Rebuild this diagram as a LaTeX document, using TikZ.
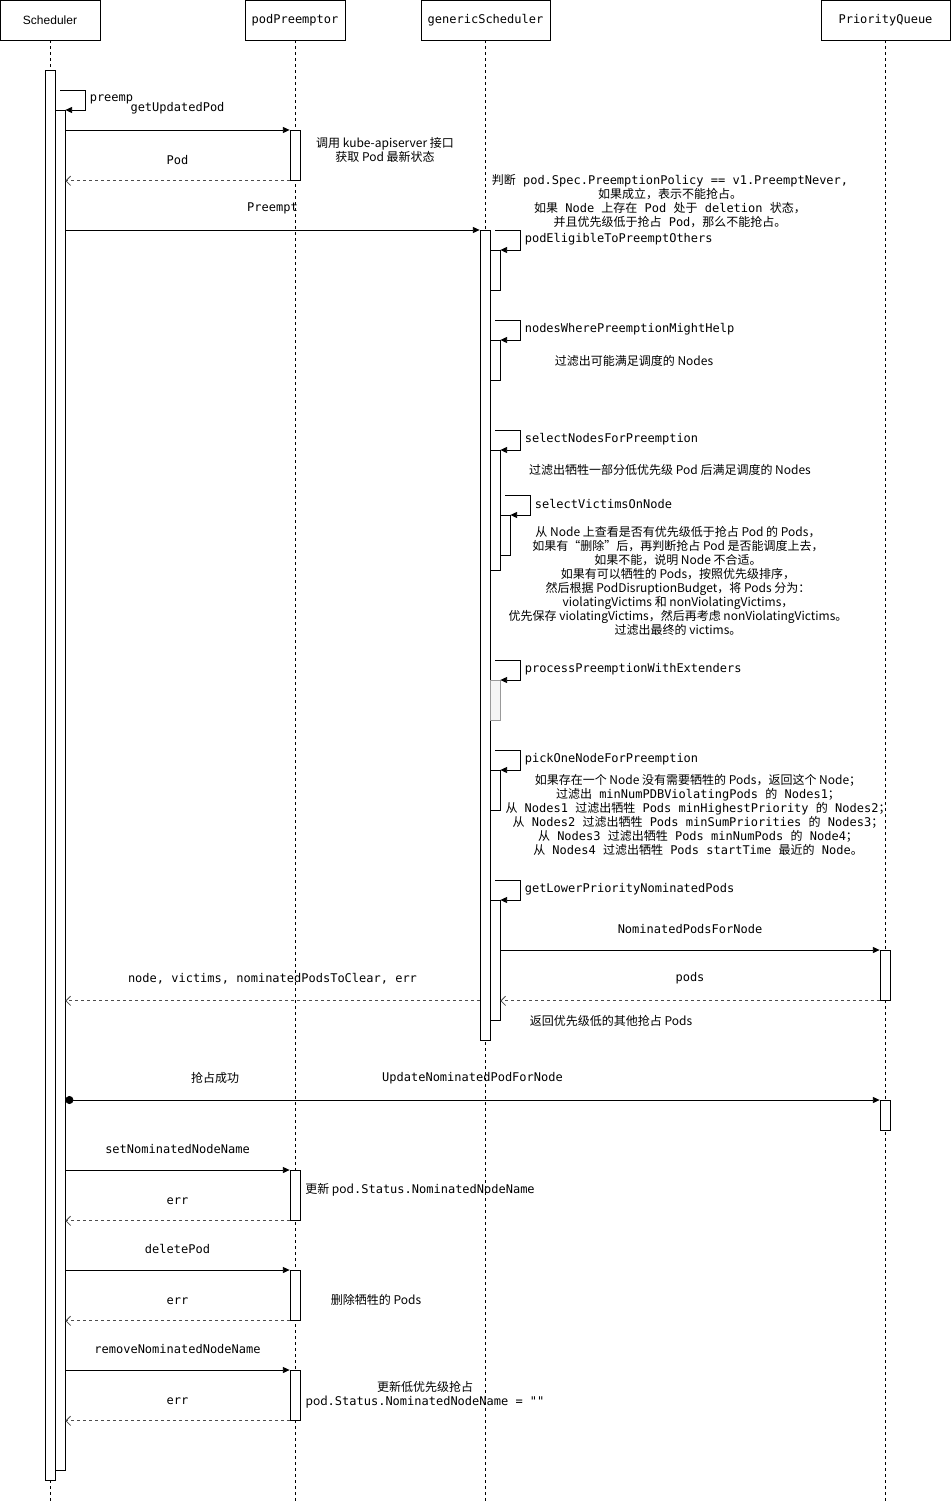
\documentclass[tikz,border=0pt]{standalone}
\usepackage{fontspec}
\setmainfont{Liberation Sans}
\setmonofont{DejaVu Sans Mono}
\newfontfamily\zh{Noto Sans CJK SC}
\usetikzlibrary{arrows.meta}
\newcommand{\fs}{\fontsize{9}{10.5}\selectfont}
\newcommand{\z}[1]{{\zh #1}}
% self call: bar name, label
\newcommand{\selfcall}[2]{%
  \draw[call] ([xshift=-3.75pt,yshift=15pt]#1.north east) -- ++(18.75pt,0)
    node[selflbl] {#2} |- (#1.north east);}

\begin{document}
\begin{tikzpicture}[
  x=0.75pt,y=-0.75pt,
  font=\fs,
  line width=0.6pt,
  head/.style={draw,minimum height=30pt,inner sep=2pt,font=\ttfamily\fs},
  life/.style={line width=0.5pt,dash pattern=on 2.25pt off 2.25pt},
  act/.style={draw,fill=white,inner sep=0pt,minimum width=7.5pt,
              minimum height=#1*0.75pt,anchor=north},
  call/.style={-{Triangle[length=5pt,width=4.5pt]}},
  ret/.style={-{Straight Barb[length=3.5pt,width=7pt]},black!70,
              dash pattern=on 2.25pt off 2.25pt},
  msg/.style={above=12pt,inner sep=0pt,font=\ttfamily\fs,text=black},
  selflbl/.style={anchor=west,inner sep=0pt,xshift=3pt,yshift=-6.75pt,font=\ttfamily\fs},
  note/.style={align=center,inner sep=0pt,font=\zh\fs}
]
\useasboundingbox (0,0) rectangle (951,1501);
\coordinate (bot) at (0,1501);

% participants
\node[head,minimum width=75pt,font=\fs] (sch) at (50,20)    {Scheduler};
\node[head,minimum width=75pt]   (pp)  at (295,20)   {podPreemptor};
\node[head,minimum width=96.75pt] (gs) at (485.5,20) {genericScheduler};
\node[head,minimum width=96.75pt] (pq) at (885.5,20) {PriorityQueue};

\foreach \p in {sch,pp,gs,pq}
  \draw[life] (\p.south) -- (\p.south |- bot);

% activations
\node[act=1410] (sch0) at (50,70)  {};
\node[act=1360] (sch1) at (60,110) {};
\node[act=50]   (pp1)  at (295,130) {};
\node[act=810]  (gs0)  at (485,230) {};
\node[act=40]   (gs1)  at (495,250) {};
\node[act=40]   (gs2)  at (495,340) {};
\node[act=120]  (gs3)  at (495,450) {};
\node[act=40]   (gs3b) at (505,515) {};
\node[act=40,fill=black!4,draw=black!40] (gs4) at (495,680) {};
\node[act=40]   (gs5)  at (495,770) {};
\node[act=120]  (gs6)  at (495,900) {};
\node[act=50]   (pq1)  at (885,950) {};
\node[act=30]   (pq2)  at (885,1100) {};
\node[act=50]   (pp2)  at (295,1170) {};
\node[act=50]   (pp3)  at (295,1270) {};
\node[act=50]   (pp4)  at (295,1370) {};

% messages
\selfcall{sch1}{preemp}
\draw[call] (sch1.east |- pp1.north west) -- node[midway,msg] {getUpdatedPod} (pp1.north west);
\draw[ret] (pp1.south west) -- node[midway,msg] {Pod} (sch1.east |- pp1.south west);
\draw[call] (sch1.east |- gs0.north west) -- node[midway,msg] {Preempt} (gs0.north west);

\selfcall{gs1}{podEligibleToPreemptOthers}
\selfcall{gs2}{nodesWherePreemptionMightHelp}
\selfcall{gs3}{selectNodesForPreemption}
\selfcall{gs3b}{selectVictimsOnNode}
\selfcall{gs4}{processPreemptionWithExtenders}
\selfcall{gs5}{pickOneNodeForPreemption}
\selfcall{gs6}{getLowerPriorityNominatedPods}

\draw[call] (gs6.east |- pq1.north west) -- node[midway,msg] {NominatedPodsForNode} (pq1.north west);
\draw[ret] (pq1.south west) -- node[midway,msg] {pods} (gs6.east |- pq1.south west);
\draw[ret] (gs0.west |- pq1.south) -- node[midway,msg] {node, victims, nominatedPodsToClear, err} (sch1.east |- pq1.south);

\draw[{Circle[length=6pt]}-{Triangle[length=5pt,width=4.5pt]}] (sch1.east |- pq2.north west)
  -- node[pos=0.184,msg,font=\zh\fs] {抢占成功}
     node[midway,msg] {UpdateNominatedPodForNode} (pq2.north west);

\draw[call] (sch1.east |- pp2.north west) -- node[midway,msg] {setNominatedNodeName} (pp2.north west);
\draw[ret] (pp2.south west) -- node[midway,msg] {err} (sch1.east |- pp2.south west);
\draw[call] (sch1.east |- pp3.north west) -- node[midway,msg] {deletePod} (pp3.north west);
\draw[ret] (pp3.south west) -- node[midway,msg] {err} (sch1.east |- pp3.south west);
\draw[call] (sch1.east |- pp4.north west) -- node[midway,msg] {removeNominatedNodeName} (pp4.north west);
\draw[ret] (pp4.south west) -- node[midway,msg] {err} (sch1.east |- pp4.south west);

% notes
\node[note] (n1) at (385,150) {调用 kube-apiserver 接口\\获取 Pod 最新状态};
\node[note,font=\ttfamily\fs] (n2) at (670,201) {%
  \z{判断} pod.Spec.PreemptionPolicy == v1.PreemptNever,\\
  \z{如果成立，表示不能抢占。}\\
  \z{如果} Node \z{上存在} Pod \z{处于} deletion \z{状态，}\\
  \z{并且优先级低于抢占} Pod\z{，那么不能抢占。}};
\node[note] (n3) at (634,361) {过滤出可能满足调度的 Nodes};
\node[note] (n4) at (670,470) {过滤出牺牲一部分低优先级 Pod 后满足调度的 Nodes};
\node[note] (n5) at (678,581) {%
  从 Node 上查看是否有优先级低于抢占 Pod 的 Pods，\\
  如果有“删除”后，再判断抢占 Pod 是否能调度上去，\\
  如果不能，说明 Node 不合适。\\
  如果有可以牺牲的 Pods，按照优先级排序，\\
  然后根据 PodDisruptionBudget，将 Pods 分为：\\
  violatingVictims 和 nonViolatingVictims，\\
  优先保存 violatingVictims，然后再考虑 nonViolatingVictims。\\
  过滤出最终的 victims。};
\node[note,font=\ttfamily\fs] (n6) at (698,815) {%
  \z{如果存在一个 Node 没有需要牺牲的 Pods，返回这个 Node；}\\
  \z{过滤出} minNumPDBViolatingPods \z{的} Nodes1\z{；}\\
  \z{从} Nodes1 \z{过滤出牺牲} Pods minHighestPriority \z{的} Nodes2\z{；}\\
  \z{从} Nodes2 \z{过滤出牺牲} Pods minSumPriorities \z{的} Nodes3\z{；}\\
  \z{从} Nodes3 \z{过滤出牺牲} Pods minNumPods \z{的} Node4\z{；}\\
  \z{从} Nodes4 \z{过滤出牺牲} Pods startTime \z{最近的} Node\z{。}};
\node[note] (n7) at (611,1021) {返回优先级低的其他抢占 Pods};
\node[note] (n8) at (420,1190) {更新 pod{\ttfamily .Status.NominatedNodeName}};
\node[note] (n9) at (376,1300) {删除牺牲的 Pods};
\node[note] (n10) at (425,1395) {更新低优先级抢占\\pod{\ttfamily .Status.NominatedNodeName = ""}};
\end{tikzpicture}
\end{document}
